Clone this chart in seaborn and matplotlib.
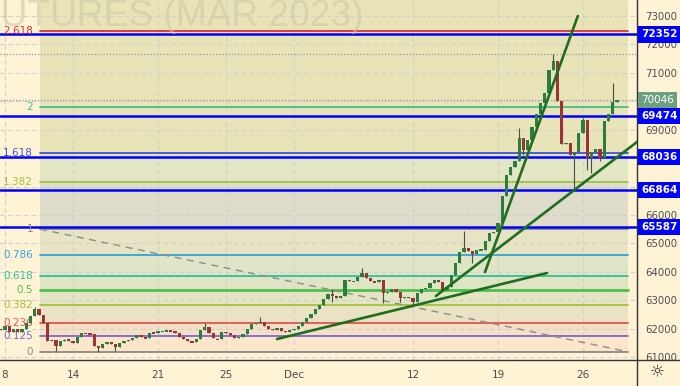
import numpy as np
import pandas as pd
import matplotlib
matplotlib.use("Agg")
import matplotlib.pyplot as plt
import seaborn as sns
from matplotlib.transforms import blended_transform_factory
from matplotlib.lines import Line2D

sns.set_theme(style="white")
plt.rcParams['font.family'] = ['DejaVu Sans']

# ---------------- data ----------------
# x axis: trading days, Nov 8 = 0 ; 4 candles per day
day_labels = ["8", "14", "21", "25", "Dec", "12", "19", "26"]
day_label_pos = [0, 4, 9, 13, 17, 24, 29, 34]
bars_per_day = 4
first_bar_day = -0.25

closes = [61950, 62100, 61880, 62000, 61880, 61980, 62200, 62450, 62690, 62480,
          62200, 61550, 61600, 61380, 61580, 61620, 61550, 61500, 61700, 61840,
          61830, 61810, 61400, 61330, 61450, 61530, 61450, 61350, 61480, 61560,
          61610, 61680, 61760, 61700, 61670, 61850, 61840, 61900, 61910, 61920,
          61910, 61840, 61720, 61640, 61560, 61530, 61650, 61950, 62050, 61850,
          61660, 61620, 61880, 61860, 61770, 61680, 61700, 61800, 61980, 62150,
          62200, 62230, 62100, 62000, 61960, 62020, 61920, 61890, 61940, 62000,
          62100, 62240, 62390, 62500, 62700, 62820, 63030, 63200, 63150, 63080,
          63160, 63710, 63660, 63680, 63800, 63950, 63780, 63680, 63640, 63720,
          63250, 63300, 63400, 63300, 63080, 63120, 63080, 62950, 63250, 63410,
          63440, 63600, 63720, 63650, 63370, 63460, 63900, 64300, 64680, 64830,
          64740, 64620, 64760, 64760, 65100, 65350, 65400, 65720, 66650, 67400,
          67700, 67880, 68700, 68300, 68650, 69100, 69550, 69950, 70280, 71100,
          71400, 70000, 68500, 68530, 68100, 68200, 68900, 69340, 68000, 68230,
          68330, 68000, 69300, 69550, 69980, 70046]
first_open = 62000
wick_high = {8: 62760, 48: 62200, 61: 62410, 78: 63400, 85: 64130, 109: 65420,
             122: 69060, 130: 71650, 137: 69400, 144: 70640}
wick_low = {13: 61210, 23: 61180, 27: 61200, 78: 62950, 90: 62900, 94: 62940,
            97: 62830, 111: 64310, 119: 66980, 123: 68110, 135: 66900,
            138: 67580, 139: 67470, 141: 67900}

# Fibonacci tool anchors
fib_x = [2.06, 36.65]
fib_zero = 61185
fib_one = 65500
fib_ratios = [0, 0.125, 0.236, 0.382, 0.5, 0.618, 0.786, 1, 1.382, 1.618, 2, 2.618]
fib_names = ["0", "0.125", "0.236", "0.382", "0.5", "0.618", "0.786", "1",
             "1.382", "1.618", "2", "2.618"]
fib_colors = ["#8a8a8a", "#7e67d0", "#e05555", "#a2c13c", "#4cbf4c", "#2ebf9a",
              "#35a3d8", "#8a8a8a", "#9bc53d", "#4054d0", "#3cc08c", "#e03030"]
band_colors = ["#fbe6c9", "#f5e0c6", "#e9e2c3", "#e3e5c3", "#dfe5c4", "#dfe5c6",
               "#e7e4c3", "#dfdccc", "#e2e6c5", "#e8e4b8", "#e8e4b8", "#e8e4b8"]

# horizontal levels
blue_levels = [72352, 69474, 68036, 66864, 65587]
dotted_levels = [71650, 70046]
last_price = 70046

# trend lines  (day, price)
trend_lines = [
    ([16.0, 31.88], [61633, 63956]),
    ([25.35, 37.5], [63147, 68713]),
    ([28.24, 33.7], [63992, 73000]),
]
dash_line = ([2.06, 36.65], [65500, 61185])

y_ticks = [61000, 62000, 63000, 64000, 65000, 66000, 67000, 68000, 69000,
           70000, 71000, 72000, 73000]
y_tick_labels = ["61000", "62000", "63000", "64000", "65000", "66000", "", "",
                 "69000", "", "71000", "72000", "73000"]

# ---------------- figure ----------------
BG = "#fff3d6"
fig = plt.figure(figsize=(6.8, 3.86), dpi=100, facecolor=BG)
ax = fig.add_axes([0, 26 / 386, 637 / 680, 360 / 386])
ax.set_facecolor(BG)
ax.set_xlim(-0.294, 37.18)
ax.set_ylim(60895, 73563)

# fib bands and lines
prices = [fib_zero + r * (fib_one - fib_zero) for r in fib_ratios]
tops = prices[1:] + [fib_zero + 3.618 * (fib_one - fib_zero)]
for lo, hi, c in zip(prices, tops, band_colors):
    ax.fill_between(fib_x, lo, hi, color=c, lw=0, zorder=0.5)

# grid
for xv in day_label_pos:
    ax.axvline(xv, color="#cfd0cc", lw=0.8, ls=(0, (4, 3)), zorder=0.8)
for yv in y_ticks:
    ax.axhline(yv, color="#cfd0cc", lw=0.8, ls=(0, (4, 3)), zorder=0.8)

for p, c, name in zip(prices, fib_colors, fib_names):
    ax.plot(fib_x, [p, p], color=c, lw=1.3 if name != "0.5" else 2.0, zorder=1)
    ax.text(1.65, p, name, color=c, fontsize=7.5, ha="right", va="center", zorder=3)

# watermark
fig.text(363 / 680, 1 - 26 / 386, "FUTURES (MAR 2023)", ha="right", va="baseline",
         fontsize=26.7, family="Liberation Sans", color="#cdc9a6", alpha=0.6, zorder=0.9)

# dashed fib trend line
dl = pd.DataFrame({"x": dash_line[0], "y": dash_line[1]})
sns.lineplot(data=dl, x="x", y="y", ax=ax, color="#8c8c8c", lw=1.0,
             linestyle=(0, (5, 4)), sort=False, zorder=1.5)

# blue levels and dotted lines
for lv in blue_levels:
    ax.axhline(lv, color="#0000ff", lw=1.8, zorder=2)
for lv in dotted_levels:
    ax.axhline(lv, color="#9a9a9a", lw=0.9, ls=(0, (1, 1.5)), zorder=2)

# candles
n = len(closes)
xs = first_bar_day + np.arange(n) / bars_per_day
opens = [first_open] + closes[:-1]
for i in range(n):
    o, c = opens[i], closes[i]
    hi = max(o, c, wick_high.get(i, c))
    lo = min(o, c, wick_low.get(i, c))
    col = "#2a7d3e" if c >= o else "#9a3535"
    ax.vlines(xs[i], lo, hi, color="#4a4a4a", lw=0.8, zorder=3)
    ax.bar(xs[i], max(abs(c - o), 45), bottom=min(o, c) - (0 if abs(c - o) >= 45 else 20),
           width=0.19, color=col, lw=0, zorder=3.2)

# trend lines
for tx, ty in trend_lines:
    tl = pd.DataFrame({"x": tx, "y": ty})
    sns.lineplot(data=tl, x="x", y="y", ax=ax, color="#1f6e1f", lw=1.9,
                 sort=False, zorder=4)

ax.set_xlabel("")
ax.set_ylabel("")

# axes styling
ax.yaxis.tick_right()
ax.set_yticks(y_ticks)
ax.set_yticklabels(y_tick_labels)
ax.set_xticks(day_label_pos)
ax.set_xticklabels(day_labels)
ax.tick_params(axis="y", length=0, pad=6, labelsize=7.3, colors="#4d4d4d")
ax.tick_params(axis="x", length=0, pad=7, labelsize=7.5, colors="#4d4d4d")
for s in ["left", "top"]:
    ax.spines[s].set_visible(False)
for s in ["right", "bottom"]:
    ax.spines[s].set_color("#333333")
    ax.spines[s].set_linewidth(1.0)
fig.add_artist(Line2D([637 / 680, 1], [26 / 386, 26 / 386], color="#333333", lw=1.0))
fig.add_artist(Line2D([637 / 680, 637 / 680], [0, 26 / 386], color="#333333", lw=1.0))

# price labels on axis
trans = blended_transform_factory(ax.transAxes, ax.transData)
for lv in blue_levels:
    ax.text(1 + 4 / 637, lv, str(lv), transform=trans, ha="left", va="center",
            color="white", fontsize=7.5, fontweight="bold", zorder=6, clip_on=False,
            bbox=dict(boxstyle="square,pad=0.3", fc="#0000ff", ec="none"))
ax.text(1 + 4 / 637, last_price, str(last_price), transform=trans, ha="left",
        va="center", color="white", fontsize=7.5, zorder=6, clip_on=False,
        bbox=dict(boxstyle="square,pad=0.3", fc="#6e9f80", ec="none"))

fig.text(657 / 680, 1 - 372 / 386, "\u263C", ha="center", va="center",
         fontsize=12, color="#333333")

fig.savefig("out.png", dpi=100, facecolor=BG)
